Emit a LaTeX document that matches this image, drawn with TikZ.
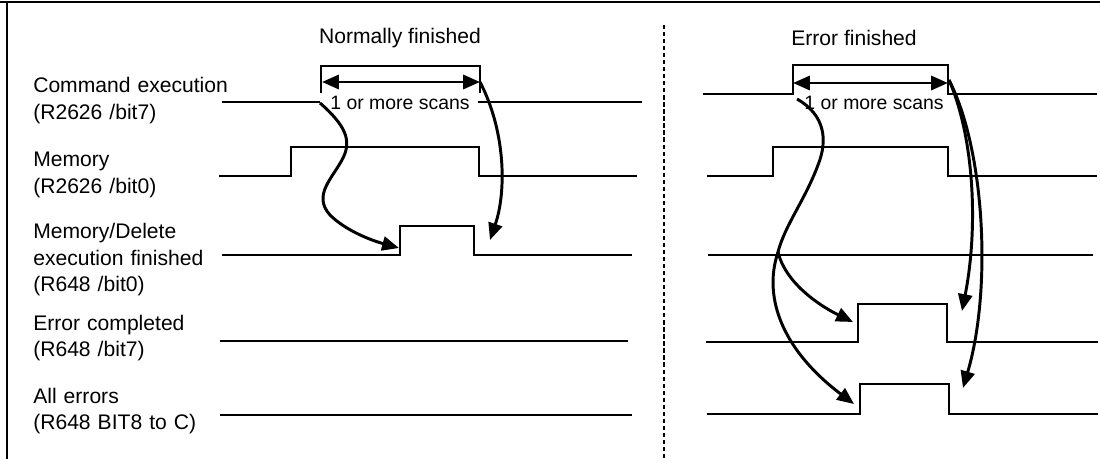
\documentclass[tikz,border=0pt]{standalone}
\usepackage{fontspec}
\setmainfont{Liberation Sans}
\usetikzlibrary{arrows.meta}
\tikzset{
  sig/.style={line width=1.3pt},
  cause/.style={line width=2.1pt, -{Triangle[length=12pt,width=10pt]}},
  span/.style={line width=2.1pt, {Triangle[length=12pt,width=10pt]}-{Triangle[length=12pt,width=10pt]}},
  lbl/.style={anchor=base west, align=left, text width=6cm, inner sep=0pt, font=\fontsize{15}{18.5}\selectfont},
  head/.style={inner sep=0pt, font=\fontsize{15}{18}\selectfont},
  scan/.style={inner sep=0pt, font=\fontsize{13.8}{16}\selectfont}
}
\begin{document}
\begin{tikzpicture}[x=0.025cm, y=-0.025cm]
  \useasboundingbox (0,0) rectangle (1100,459);
  \draw[line width=1.6pt] (0,2) -- (1100,2);
  \draw[line width=1.2pt] (7,2) -- (7,459);
  \draw[line width=1pt, dash pattern=on 3pt off 2pt] (664,25) -- (664,459);

  \node[head] (normal) at (400,38) {Normally finished};
  \node[head] (error) at (854,38) {Error finished};

  \node[lbl] (cmd) at (33,93) {Command execution\\(R2626 /bit7)};
  \node[lbl] (mem) at (33,167) {Memory\\(R2626 /bit0)};
  \node[lbl] (done) at (33,239) {Memory/Delete\\execution finished\\(R648 /bit0)};
  \node[lbl] (err) at (33,330) {Error completed\\(R648 /bit7)};
  \node[lbl] (all) at (33,403) {All errors\\(R648 BIT8 to C)};

  % normally finished
  \draw[sig] (222,102) -- (320,102);
  \draw[sig] (321,93) -- (321,66) -- (480,66) -- (480,93);
  \draw[sig] (478,102) -- (642,102);
  \draw[sig] (219,176) -- (291,176) -- (291,147) -- (479,147) -- (479,176) -- (637,176);
  \draw[sig] (222,255) -- (400,255) -- (400,226) -- (474,226) -- (474,255) -- (632,255);
  \draw[sig] (220,341) -- (628,341);
  \draw[sig] (220,415) -- (632,415);

  % error finished
  \draw[sig] (703,94) -- (793,94) -- (793,65) -- (948,65) -- (948,94) -- (1097,94);
  \draw[sig] (707,176) -- (773,176) -- (773,147) -- (948,147) -- (948,176) -- (1097,176);
  \draw[sig] (708,255) -- (1093,255);
  \draw[sig] (706,342) -- (858,342) -- (858,304) -- (947,304) -- (947,342) -- (1098,342);
  \draw[sig] (707,414) -- (860,414) -- (860,384) -- (949,384) -- (949,414) -- (1098,414);

  \coordinate (nSpanL) at (322,82);
  \coordinate (nSpanR) at (480,82);
  \coordinate (eSpanL) at (793,83);
  \coordinate (eSpanR) at (948,83);
  \draw[span] (nSpanL) -- (nSpanR);
  \draw[span] (eSpanL) -- (eSpanR);
  \node[scan] (nscan) at (400,103) {1 or more scans};
  \node[scan] (escan) at (874,103) {1 or more scans};

  \coordinate (nGo) at (320,103);
  \coordinate (nDoneUp) at (399,248);
  \coordinate (nDoneDn) at (490,240);
  \coordinate (eGo) at (797,99);
  \coordinate (eFork) at (778,252);
  \coordinate (eErrUp) at (853,322);
  \coordinate (eAllUp) at (854,404);
  \coordinate (eStop) at (949,80);
  \coordinate (eErrDn) at (962,311);
  \coordinate (eAllDn) at (963,388);

  \draw[cause] (nGo) .. controls (345,125) and (352,140) .. (343,158)
    .. controls (333,178) and (312,195) .. (330,215)
    .. controls (345,230) and (370,240) .. (nDoneUp);
  \draw[cause] (nSpanR) .. controls (505,130) and (507,190) .. (nDoneDn);
  \draw[line width=2.1pt] (eGo) .. controls (825,115) and (828,140) .. (818,165)
    .. controls (805,200) and (785,225) .. (eFork);
  \draw[cause] (eFork) .. controls (785,282) and (818,305) .. (eErrUp);
  \draw[cause] (eFork) .. controls (762,300) and (785,352) .. (eAllUp);
  \draw[cause] (eStop) .. controls (975,140) and (978,230) .. (eErrDn);
  \draw[cause] (eStop) .. controls (985,150) and (992,290) .. (eAllDn);
\end{tikzpicture}
\end{document}
